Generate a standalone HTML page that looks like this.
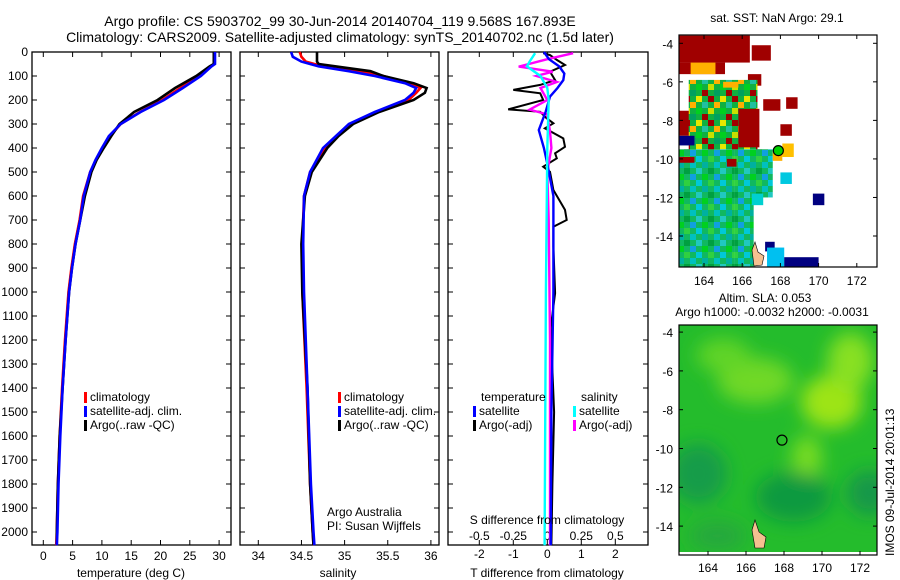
<!DOCTYPE html>
<html><head><meta charset="utf-8"><style>
body{margin:0;background:#fff;}
svg{display:block;font-family:"Liberation Sans",sans-serif;}
</style></head><body>
<svg id="fig" width="900" height="580" viewBox="0 0 900 580" xmlns="http://www.w3.org/2000/svg">
<defs>
<pattern id="warm" width="24" height="24" patternUnits="userSpaceOnUse">
<rect width="24" height="24" fill="#10b040"/>
<rect x="0" y="0" width="6" height="6" fill="#e8e800"/><rect x="12" y="0" width="6" height="6" fill="#a00000"/>
<rect x="6" y="6" width="6" height="6" fill="#20c0a0"/><rect x="18" y="6" width="6" height="6" fill="#ffb000"/>
<rect x="0" y="12" width="6" height="6" fill="#00d020"/><rect x="12" y="12" width="6" height="6" fill="#c8e000"/>
<rect x="6" y="18" width="6" height="6" fill="#a00000"/><rect x="18" y="18" width="6" height="6" fill="#00a060"/>
</pattern>
<pattern id="cool" width="24" height="24" patternUnits="userSpaceOnUse">
<rect width="24" height="24" fill="#10b860"/>
<rect x="0" y="0" width="6" height="6" fill="#20c8c0"/><rect x="12" y="0" width="6" height="6" fill="#00a040"/>
<rect x="6" y="6" width="6" height="6" fill="#00d020"/><rect x="18" y="6" width="6" height="6" fill="#10a0e0"/>
<rect x="0" y="12" width="6" height="6" fill="#00c8d8"/><rect x="12" y="12" width="6" height="6" fill="#30d040"/>
<rect x="6" y="18" width="6" height="6" fill="#00b0a0"/><rect x="18" y="18" width="6" height="6" fill="#00c0c0"/>
</pattern>
<filter id="blur"><feGaussianBlur stdDeviation="9"/></filter>
<clipPath id="clip2"><rect x="679" y="325" width="198" height="230"/></clipPath>
</defs>
<text x="340" y="26" font-size="14" text-anchor="middle">Argo profile: CS 5903702_99 30-Jun-2014 20140704_119 9.568S 167.893E</text>
<text x="340" y="42" font-size="14" text-anchor="middle">Climatology: CARS2009. Satellite-adjusted climatology: synTS_20140702.nc (1.5d later)</text>
<g id="g"></g>
</svg>
<script>
// ---- data ----
const depthT = [0,50,60,100,150,200,250,300,350,400,450,500,600,700,800,900,1000,1200,1400,1600,1800,2000,2055];
const tempClim = [29.2,29.2,28.6,26.6,23.4,20.3,16.5,13.2,11.4,10.1,9.0,8.0,6.8,6.2,5.4,4.8,4.3,3.7,3.2,2.8,2.5,2.3,2.2];
const tempSat = [29.3,29.3,28.7,26.9,23.8,20.6,16.6,13.2,11.2,10.0,8.9,8.0,6.9,6.3,5.5,4.9,4.4,3.8,3.3,2.9,2.6,2.4,2.3];
const tempArgo = [29.1,29.1,28.4,26.1,22.5,19.5,15.5,13.0,11.6,10.3,9.1,8.2,7.1,6.3,5.5,4.9,4.4,3.8,3.3,2.8,2.5,2.3,2.3];
const depthS = [0,20,40,50,60,80,100,130,150,170,200,250,300,350,400,500,600,800,1000,1400,1800,2000,2055];
const salClim = [34.48,34.5,34.55,34.65,34.8,35.2,35.45,35.75,35.88,35.83,35.74,35.36,35.08,34.92,34.77,34.6,34.53,34.51,34.51,34.56,34.6,34.63,34.64];
const salSat = [34.38,34.4,34.5,34.6,34.7,35.05,35.35,35.7,35.83,35.8,35.7,35.35,35.05,34.9,34.75,34.6,34.53,34.52,34.53,34.57,34.61,34.64,34.65];
const salArgo = [34.68,34.68,34.68,34.7,34.9,35.3,35.45,35.8,35.95,35.93,35.8,35.4,35.1,34.93,34.8,34.62,34.54,34.5,34.51,34.57,34.6,34.63,34.64];
const depthTd = [5,13,33,54,82,117,137,158,172,200,239,249,276,297,318,360,395,422,443,478,499,575,658,700,728,811,1005,1150,1500,1800,2055];
const tDiffArgo = [-0.12,0.08,0.28,0.52,0.08,0.23,-0.21,-1.0,-0.21,-0.12,-1.15,-0.21,-0.02,0.18,-0.07,0.47,0.52,0.23,0.28,-0.12,0.08,0.18,0.52,0.57,0.18,0.18,0.23,0.1,0.2,0.15,0.12];
const depthTs = [0,30,60,90,117,150,186,250,325,400,465,600,1000,1500,2055];
const tDiffSat = [-0.1,0.05,0.35,0.5,0.47,0.3,0.08,-0.05,-0.25,-0.1,0,0.18,0.18,0.12,0.1];
const depthSd = [5,30,61,82,100,125,150,200,240,260,330,400,500,700,1200,2055];
const sDiffArgo = [0.19,0,-0.21,0.04,-0.08,0.07,-0.05,0,-0.13,0,0.02,0.03,0,0.01,0.02,0.02];
const depthSs = [5,40,60,100,150,200,400,1000,2055];
const sDiffSat = [-0.09,-0.13,-0.15,-0.05,0,0.01,0,-0.01,-0.02];
const depthTicks = [0,100,200,300,400,500,600,700,800,900,1000,1100,1200,1300,1400,1500,1600,1700,1800,1900,2000];
const tempTicks = [0,5,10,15,20,25,30];
const salTicks = [34,34.5,35,35.5,36];
const salTickLabels = ["34","34.5","35","35.5","36"];
const tdTicks = [-2,-1,0,1,2];
const sdTickLabels = ["-0.5","-0.25","0","0.25","0.5"];
const lonTicks = [164,166,168,170,172];
const latTicks = [-4,-6,-8,-10,-12,-14];
// SST blocks: [lon1, lat1, lon2, lat2, fill]
const sstBlocks = [
 [162.7,-3.6,166.4,-5.0,"#a00000"],[162.7,-5.0,165.1,-5.6,"#a00000"],[166.5,-4.1,167.5,-4.9,"#a00000"],
 [166.3,-5.6,167.0,-6.2,"#a00000"],[167.1,-6.9,168.0,-7.5,"#a00000"],[168.3,-6.8,168.9,-7.4,"#a00000"],
 [168.0,-8.2,168.6,-8.8,"#a00000"],[162.7,-7.5,163.5,-8.8,"#a00000"],
 [163.2,-5.9,166.8,-9.5,"url(#warm)"],[165.8,-7.4,166.9,-9.4,"#a00000"],[165.0,-6.0,165.8,-6.3,"#ffb000"],[163.3,-5.0,164.6,-5.6,"#ffb000"],
 [162.7,-9.5,165.6,-15.6,"url(#cool)"],[165.6,-9.5,167.6,-12.0,"url(#cool)"],[165.6,-12.0,166.6,-15.6,"url(#cool)"],
 [162.7,-9.9,163.5,-10.2,"#a00000"],[165.2,-10.0,165.7,-10.4,"#a00000"],[166.5,-11.8,167.1,-12.4,"#00d0d0"],
 [167.6,-9.6,168.1,-10.1,"#ffb000"],[168.1,-9.2,168.7,-9.9,"#ffc000"],[168.0,-10.7,168.6,-11.3,"#00c8e0"],
 [169.7,-11.8,170.3,-12.4,"#000080"],[162.7,-8.8,163.5,-9.3,"#000080"],[167.2,-14.3,167.7,-14.8,"#000080"],
 [167.3,-14.6,168.2,-15.6,"#00c0f0"],[168.2,-15.1,170.0,-15.6,"#000080"]
];
// SLA blobs: [lon, lat, rx(deg), ry(deg), fill]
const slaBlobs = [
 [170.5,-7.6,1.6,1.4,"#9de418"],[171.5,-5.5,1.2,1.5,"#88e020"],[166.5,-6.5,2.0,1.2,"#70d828"],
 [164.8,-5.2,1.4,0.9,"#60d428"],[169.2,-10.5,0.8,1.2,"#78dc24"],[163.5,-11.3,1.5,1.6,"#129c48"],
 [168.5,-12.5,2.0,1.3,"#109a40"],[172.5,-12.3,1.2,1.2,"#189848"],[164.5,-14.5,1.5,0.8,"#28a83e"]
];
// ---- drawing ----
const NS="http://www.w3.org/2000/svg";
const G=document.getElementById('g');
function mk(tag,attrs,parent){const e=document.createElementNS(NS,tag);for(const k in attrs)e.setAttribute(k,attrs[k]);(parent||G).appendChild(e);return e;}
function txt(x,y,s,size,anchor,parent){const e=mk('text',{x:x,y:y,'font-size':size||12,'text-anchor':anchor||'start'},parent);e.textContent=s;return e;}
const yD=d=>52+d*0.24;
const P1={x0:32,x1:231}, P2={x0:240,x1:439}, P3={x0:448,x1:648};
const xT=v=>43.3+v*5.86;
const xS=v=>258.3+(v-34)*86.3;
const xTd=v=>547.3+v*34;
const xSd=v=>547.3+v*136;
function frame(p,name){const r=mk('rect',{x:p.x0,y:52,width:p.x1-p.x0,height:493,fill:'none',stroke:'#000','stroke-width':1.3});
 }
function line(ds,vs,fx,color,name,w){
 const pts=ds.map((d,i)=>fx(vs[i]).toFixed(1)+','+yD(d).toFixed(1)).join(' ');
 const e=mk('polyline',{points:pts,fill:'none',stroke:color,'stroke-width':w||2.6,'stroke-linejoin':'miter'});
 }
function xticks(p,ticks,fx,labels,ly){
 ticks.forEach((t,i)=>{const x=fx(t);mk('line',{x1:x,x2:x,y1:545,y2:540,stroke:'#000'});mk('line',{x1:x,x2:x,y1:52,y2:57,stroke:'#000'});
  if(labels){const e=txt(x,ly,labels[i],12,'middle');}});}
function yticks(p,withLabels){depthTicks.forEach(d=>{const y=yD(d);mk('line',{x1:p.x0,x2:p.x0+5,y1:y,y2:y,stroke:'#000'});mk('line',{x1:p.x1-5,x2:p.x1,y1:y,y2:y,stroke:'#000'});
 if(withLabels){const e=txt(28,y+4,String(d),12,'end');}});}
function legend(x,y,items){items.forEach((it,i)=>{mk('rect',{x:x,y:y+i*14-9,width:3,height:11,fill:it[1]});
 const e=txt(x+6,y+i*14,it[0],12);});}

// Panel 1
frame(P1,'temperature-panel'); yticks(P1,true);
xticks(P1,tempTicks,xT,tempTicks.map(String),560);
line(depthT,tempClim,xT,'#ff0000','temp-climatology-line');
line(depthT,tempArgo,xT,'#000000','temp-argo-line');
line(depthT,tempSat,xT,'#0000ff','temp-satellite-line');
legend(84,401,[["climatology","#f00"],["satellite-adj. clim.","#00f"],["Argo(..raw -QC)","#000"]]);
let e=txt(131,577,'temperature (deg C)',12,'middle');
// Panel 2
frame(P2,'salinity-panel'); yticks(P2,false);
xticks(P2,salTicks,xS,salTickLabels,560);
line(depthS,salClim,xS,'#ff0000','sal-climatology-line');
line(depthS,salArgo,xS,'#000000','sal-argo-line');
line(depthS,salSat,xS,'#0000ff','sal-satellite-line');
legend(338,401,[["climatology","#f00"],["satellite-adj. clim.","#00f"],["Argo(..raw -QC)","#000"]]);
e=txt(327,516,'Argo Australia',12);
e=txt(327,530,'PI: Susan Wijffels',12);
e=txt(338,577,'salinity',12,'middle');
// Panel 3
frame(P3,'difference-panel'); yticks(P3,false);
xticks(P3,tdTicks,xTd,tdTicks.map(String),558);
tdTicks.forEach((t,i)=>{const ee=txt(xTd(t),540,sdTickLabels[i],12,'middle');});
line(depthTd,tDiffArgo,xTd,'#000000','tdiff-argo-line',2);
line(depthSd,sDiffArgo,xSd,'#ff00ff','sdiff-argo-line',2.4);
line(depthTs,tDiffSat,xTd,'#0000ff','tdiff-satellite-line',2.4);
line(depthSs,sDiffSat,xSd,'#00ffff','sdiff-satellite-line',2.4);
e=txt(481,401,'temperature',12);
legend(473,415,[["satellite","#00f"],["Argo(-adj)","#000"]]);
e=txt(581,401,'salinity',12);
legend(573,415,[["satellite","#0ff"],["Argo(-adj)","#f0f"]]);
e=txt(547,524,'S difference from climatology',12,'middle');
e=txt(547,577,'T difference from climatology',12,'middle');

// Map 1 (SST)
const m1x=v=>704+(v-164)*19.1, m1y=v=>43.3+(-4-v)*19.27;
const M1=mk('g',{});
sstBlocks.forEach(b=>{const r=mk('rect',{x:m1x(b[0]),y:m1y(b[1]),width:m1x(b[2])-m1x(b[0]),height:m1y(b[3])-m1y(b[1]),fill:b[4]},M1);
 });
mk('path',{d:'M752,250 l3,-8 l3,10 l6,4 l-2,9 l-8,1 z',fill:'#f4c090',stroke:'#000','stroke-width':0.6},M1);
mk('rect',{x:679,y:35,width:198,height:232,fill:'none',stroke:'#000','stroke-width':1.2},M1);
e=mk('circle',{cx:m1x(167.893),cy:m1y(-9.568),r:5,fill:'#00d000',stroke:'#000','stroke-width':1.2},M1);
lonTicks.forEach(v=>{const x=m1x(v);mk('line',{x1:x,x2:x,y1:35,y2:39,stroke:'#000'});mk('line',{x1:x,x2:x,y1:263,y2:267,stroke:'#000'});txt(x,285,String(v),12,'middle');});
latTicks.forEach(v=>{const y=m1y(v);mk('line',{x1:679,x2:683,y1:y,y2:y,stroke:'#000'});mk('line',{x1:873,x2:877,y1:y,y2:y,stroke:'#000'});txt(673,y+5,String(v),12,'end');});
e=txt(777,22,'sat. SST: NaN Argo: 29.1',12,'middle');
e=txt(765,302,'Altim. SLA: 0.053',12,'middle');
e=txt(772,316,'Argo h1000: -0.0032 h2000: -0.0031',12,'middle');

// Map 2 (SLA)
const m2x=v=>708+(v-164)*19.0, m2y=v=>409.7+(-8-v)*19.4;
const M2=mk('g',{'clip-path':'url(#clip2)'});
mk('rect',{x:679,y:325,width:198,height:230,fill:'#24bc2c'},M2);
const BL=mk('g',{filter:'url(#blur)'},M2);
slaBlobs.forEach(b=>{const el=mk('ellipse',{cx:m2x(b[0]),cy:m2y(b[1]),rx:b[2]*19,ry:b[3]*19,fill:b[4]},BL);
 });
mk('path',{d:'M752,530 l3,-10 l4,12 l7,5 l-2,11 l-9,0 z',fill:'#f4c090',stroke:'#000','stroke-width':0.6},M2);
mk('rect',{x:679,y:552,width:198,height:3,fill:'#fff'},M2);
mk('rect',{x:679,y:325,width:198,height:230,fill:'none',stroke:'#000','stroke-width':1.2});
e=mk('circle',{cx:m2x(167.893),cy:m2y(-9.568),r:5,fill:'none',stroke:'#000','stroke-width':1.2});
lonTicks.forEach(v=>{const x=m2x(v);mk('line',{x1:x,x2:x,y1:551,y2:555,stroke:'#000'});txt(x,572,String(v),12,'middle');});
latTicks.forEach(v=>{const y=m2y(v);if(y<330)return;mk('line',{x1:679,x2:683,y1:y,y2:y,stroke:'#000'});mk('line',{x1:873,x2:877,y1:y,y2:y,stroke:'#000'});txt(673,y+5,String(v),12,'end');});
e=txt(0,0,'IMOS 09-Jul-2014 20:01:13',12,'start');e.setAttribute('transform','translate(894,556) rotate(-90)');

</script>
</body></html>
